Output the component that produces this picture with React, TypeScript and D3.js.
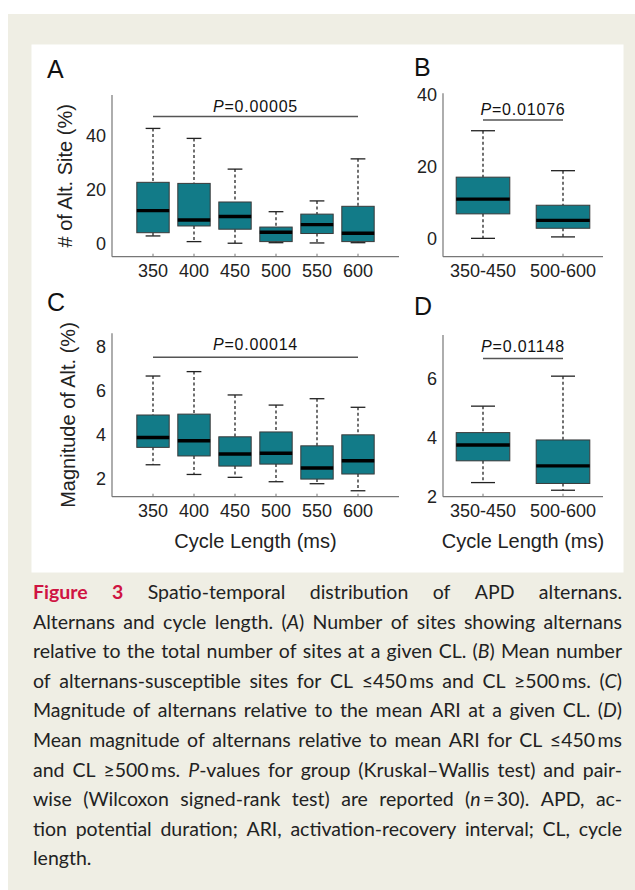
import React, { useEffect, useRef } from "react"
import * as d3 from "d3"

const cycleLengths = ["350", "400", "450", "500", "550", "600"]
const clGroups = ["350-450", "500-600"]

// each entry: [lower whisker, Q1, median, Q3, upper whisker]
const altSiteByCL = [
  [2.7, 3.9, 12.1, 22.6, 42.6],
  [0.6, 6.4, 8.6, 22.2, 38.9],
  [0, 5.2, 9.9, 15.3, 27.5],
  [0.2, 0.6, 4.1, 6.0, 11.7],
  [0.1, 3.6, 6.9, 10.8, 15.7],
  [0.2, 0.6, 3.7, 13.7, 31.3],
]
const altSiteByGroup = [
  [0, 6.8, 10.9, 17.0, 29.9],
  [0.4, 2.8, 5.0, 9.2, 18.8],
]
const magnitudeByCL = [
  [2.65, 3.44, 3.89, 4.91, 6.68],
  [2.21, 3.05, 3.74, 4.95, 6.88],
  [2.08, 2.59, 3.14, 3.92, 5.82],
  [1.88, 2.68, 3.17, 4.14, 5.36],
  [1.79, 2.0, 2.5, 3.51, 5.65],
  [1.47, 2.23, 2.83, 4.01, 5.26],
]
const magnitudeByGroup = [
  [2.47, 3.21, 3.75, 4.17, 5.07],
  [2.21, 2.44, 3.04, 3.92, 6.09],
]

const ticksA = [0, 20, 40]
const ticksB = [0, 20, 40]
const ticksC = [2, 4, 6, 8]
const ticksD = [2, 4, 6]

const pValues = ["0.00005", "0.01076", "0.00014", "0.01148"]

const captionLines = [
  "*Figure *3 Spatio-temporal distribution of APD alternans.",
  "Alternans and cycle length. (_A_) Number of sites showing alternans",
  "relative to the total number of sites at a given CL. (_B_) Mean number",
  "of alternans-susceptible sites for CL \u2264450\u2009ms and CL \u2265500\u2009ms. (_C_)",
  "Magnitude of alternans relative to the mean ARI at a given CL. (_D_)",
  "Mean magnitude of alternans relative to mean ARI for CL \u2264450\u2009ms",
  "and CL \u2265500\u2009ms. _P_-values for group (Kruskal\u2013Wallis test) and pair-",
  "wise (Wilcoxon signed-rank test) are reported (_n_\u2009=\u200930). APD, ac-",
  "tion potential duration; ARI, activation-recovery interval; CL, cycle",
  "length.",
]

const FONT = "'Liberation Sans', Arial, sans-serif"
const TEAL = "#127b88"

const panels = [
  {
    letter: "A", lx: 47, ly: 78,
    cats: cycleLengths, stats: altSiteByCL, ticks: ticksA,
    xDomain: [0, 7], xRange: [112, 399], yDomain: [-5, 55], yRange: [256.7, 95],
    boxW: 0.79, capW: 0.36, p: pValues[0], pY: 47, pTextY: 112,
    yLabel: "# of Alt. Site (%)", yLabelX: 65, xLabel: null, tickLabelY: 277,
  },
  {
    letter: "B", lx: 414, ly: 76,
    cats: clGroups, stats: altSiteByGroup, ticks: ticksB,
    xDomain: [0.5, 2.5], xRange: [443, 603], yDomain: [-5.1, 40.3], yRange: [256.7, 93.3],
    boxW: 0.67, capW: 0.3, p: pValues[1], pY: 32.9, pTextY: 115,
    yLabel: null, yLabelX: 0, xLabel: null, tickLabelY: 277,
  },
  {
    letter: "C", lx: 47, ly: 311,
    cats: cycleLengths, stats: magnitudeByCL, ticks: ticksC,
    xDomain: [0, 7], xRange: [112, 399], yDomain: [1.2, 8.62], yRange: [496.7, 333.3],
    boxW: 0.79, capW: 0.36, p: pValues[2], pY: 7.53, pTextY: 350,
    yLabel: "Magnitude of Alt. (%)", yLabelX: 68, xLabel: "Cycle Length (ms)", tickLabelY: 517,
  },
  {
    letter: "D", lx: 414, ly: 315,
    cats: clGroups, stats: magnitudeByGroup, ticks: ticksD,
    xDomain: [0.5, 2.5], xRange: [443, 603], yDomain: [1.99, 7.49], yRange: [496.7, 335],
    boxW: 0.67, capW: 0.3, p: pValues[3], pY: 6.69, pTextY: 352,
    yLabel: null, yLabelX: 0, xLabel: "Cycle Length (ms)", tickLabelY: 517,
  },
]

const BoxPanel = ({ cfg }: { cfg: any }) => {
  const x = d3.scaleLinear().domain(cfg.xDomain).range(cfg.xRange)
  const y = d3.scaleLinear().domain(cfg.yDomain).range(cfg.yRange)
  const step = x(2) - x(1)
  const bw = cfg.boxW * step
  const cw = cfg.capW * step
  const [left, right] = cfg.xRange
  const [bottom, top] = cfg.yRange
  const last = cfg.cats.length

  return (
    <g fontFamily={FONT}>
      <text x={cfg.lx} y={cfg.ly} fontSize={25} fill="#111">{cfg.letter}</text>

      {/* axes */}
      <line x1={left} x2={left} y1={top} y2={bottom} stroke="#777" strokeWidth={1.2} />
      <line x1={left} x2={right} y1={bottom} y2={bottom} stroke="#777" strokeWidth={1.2} />

      {cfg.ticks.map((t: number) => (
        <text key={t} x={left - 6} y={y(t)} dy="0.35em" textAnchor="end" fontSize={18} fill="#222">{t}</text>
      ))}
      {cfg.cats.map((c: string, i: number) => (
        <g key={c}>
          <line x1={x(i + 1)} x2={x(i + 1)} y1={bottom} y2={bottom - 3} stroke="#777" strokeWidth={1} />
          <text x={x(i + 1)} y={cfg.tickLabelY} textAnchor="middle" fontSize={18} fill="#222">{c}</text>
        </g>
      ))}

      {/* boxes */}
      {cfg.stats.map((s: number[], i: number) => {
        const cx = x(i + 1)
        const [lo, q1, med, q3, hi] = s
        return (
          <g key={i}>
            <line x1={cx} x2={cx} y1={y(hi)} y2={y(q3)} stroke="#111" strokeWidth={1.2} strokeDasharray="3,2.5" />
            <line x1={cx} x2={cx} y1={y(q1)} y2={y(lo)} stroke="#111" strokeWidth={1.2} strokeDasharray="3,2.5" />
            <line x1={cx - cw / 2} x2={cx + cw / 2} y1={y(hi)} y2={y(hi)} stroke="#222" strokeWidth={1.3} />
            <line x1={cx - cw / 2} x2={cx + cw / 2} y1={y(lo)} y2={y(lo)} stroke="#222" strokeWidth={1.3} />
            <rect x={cx - bw / 2} y={y(q3)} width={bw} height={y(q1) - y(q3)} fill={TEAL} stroke="#3a3a3a" strokeWidth={1} />
            <line x1={cx - bw / 2} x2={cx + bw / 2} y1={y(med)} y2={y(med)} stroke="#000" strokeWidth={3.4} />
          </g>
        )
      })}

      {/* significance bar */}
      <line x1={x(1)} x2={x(last)} y1={y(cfg.pY)} y2={y(cfg.pY)} stroke="#555" strokeWidth={1.5} />
      <text x={(x(1) + x(last)) / 2} y={cfg.pTextY} textAnchor="middle" fontSize={16} letterSpacing={0.8} fill="#111">
        <tspan fontStyle="italic">P</tspan>={cfg.p}
      </text>

      {cfg.yLabel && (
        <text transform={`translate(${cfg.yLabelX},${(top + bottom) / 2}) rotate(-90)`} textAnchor="middle" dy="0.35em" fontSize={20} fill="#222">
          {cfg.yLabel}
        </text>
      )}
      {cfg.xLabel && (
        <text x={(x(1) + x(last)) / 2} y={548} textAnchor="middle" fontSize={20} fill="#222">{cfg.xLabel}</text>
      )}
    </g>
  )
}

const App = () => {
  const capRef = useRef<SVGGElement>(null)

  // justified caption, measured word by word
  useEffect(() => {
    if (!capRef.current) return
    const g = d3.select(capRef.current)
    g.selectAll("*").remove()
    const capLeft = 33
    const capRight = 622
    const capTop = 599
    const lead = 29.6

    captionLines.forEach((line, li) => {
      const words = line.split(" ")
      const nodes = words.map((w) => {
        const t = g.append("text").attr("y", capTop + li * lead)
        if (w.startsWith("*")) {
          t.attr("font-weight", "bold").attr("fill", "#cf1442").text(w.slice(1))
        } else {
          w.split("_").forEach((seg, k) => {
            if (!seg) return
            t.append("tspan").attr("font-style", k % 2 ? "italic" : "normal").text(seg)
          })
        }
        return t
      })
      const widths = nodes.map((n) => (n.node() as SVGTextElement).getComputedTextLength())
      const total = d3.sum(widths)
      const isLast = li === captionLines.length - 1
      const gap = isLast ? 5 : (capRight - capLeft - total) / (words.length - 1)
      let cx = capLeft
      nodes.forEach((n, i) => {
        n.attr("x", cx)
        cx += widths[i] + gap
      })
    })
  }, [])

  return (
    <div style={{ position: "absolute", left: 0, top: 0 }}>
      <svg width={635} height={890} style={{ display: "block" }}>
        <rect x={0} y={0} width={635} height={890} fill="#fff" />
        <rect x={8} y={14} width={627} height={876} fill="#efeee4" />
        <rect x={31.5} y={44.5} width={592} height={528} fill="#fff" />
        {panels.map((p) => <BoxPanel key={p.letter} cfg={p} />)}
        <g ref={capRef} fontFamily="Lato, 'Open Sans', sans-serif" fontSize={19.5} fill="#222" />
      </svg>
    </div>
  )
}

export default App
